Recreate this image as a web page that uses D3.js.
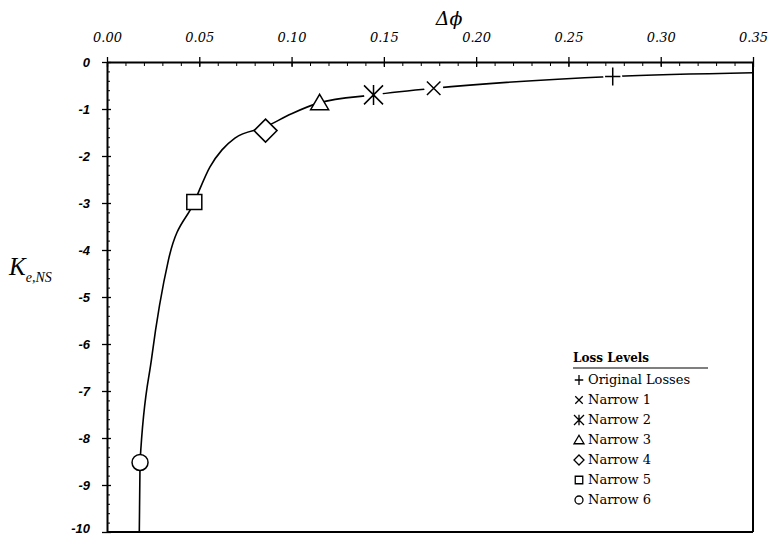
<!DOCTYPE html>
<html>
<head>
<meta charset="utf-8">
<script src="https://cdn.jsdelivr.net/npm/d3@7"></script>
<style>
  body { margin: 0; background: #fff; }
  svg { display: block; }
</style>
</head>
<body>
<div class="chart-container"></div>
<script>
// curve (delta phi, K_e,NS)
const curveX = [0.0175, 0.0179, 0.0243, 0.0333, 0.0473, 0.0558, 0.0623, 0.0693, 0.0859, 0.1000, 0.1149, 0.1444, 0.177, 0.274, 0.35];
const curveY = [-10, -8.52, -6.27, -4.21, -2.98, -2.23, -1.87, -1.62, -1.38, -1.10, -0.87, -0.70, -0.56, -0.31, -0.23];

// loss level markers
const levelNames = ['Original Losses', 'Narrow 1', 'Narrow 2', 'Narrow 3', 'Narrow 4', 'Narrow 5', 'Narrow 6'];
const levelShapes = ['plus', 'cross', 'asterisk', 'triangle', 'diamond', 'square', 'circle'];
const levelX = [0.274, 0.177, 0.1444, 0.1152, 0.0859, 0.0473, 0.0179];
const levelY = [-0.31, -0.56, -0.70, -0.87, -1.46, -2.98, -8.52];

const xMajor = [0, 0.05, 0.10, 0.15, 0.20, 0.25, 0.30, 0.35];
const yMajor = [0, -1, -2, -3, -4, -5, -6, -7, -8, -9, -10];

const width = 768, height = 535;
const plotLeft = 107, plotRight = 753, plotTop = 62, plotBottom = 532;

const svg = d3.select('.chart-container').append('svg')
    .attr('width', width)
    .attr('height', height);

const x = d3.scaleLinear().domain([0, 0.35]).range([plotLeft, plotRight]);
const y = d3.scaleLinear().domain([0, -10]).range([plotTop, plotBottom]);

const xMinor = d3.range(0, 36).map(i => i / 100);
const yMinor = d3.range(0, 51).map(i => -i / 5);

// frame: right and bottom edges
svg.append('line').attr('x1', plotRight).attr('x2', plotRight).attr('y1', plotTop).attr('y2', plotBottom)
    .attr('stroke', '#000').attr('stroke-width', 2);
svg.append('line').attr('x1', plotLeft).attr('x2', plotRight).attr('y1', plotBottom).attr('y2', plotBottom)
    .attr('stroke', '#000').attr('stroke-width', 2);

// top axis: minor ticks pointing down, major ticks crossing
svg.append('g')
    .attr('transform', `translate(0,${plotTop})`)
    .call(d3.axisBottom(x).tickValues(xMinor).tickSize(4).tickSizeOuter(0).tickFormat(''))
    .call(g => g.select('.domain').remove());
const xAxis = svg.append('g')
    .attr('transform', `translate(0,${plotTop})`)
    .call(d3.axisTop(x).tickValues(xMajor).tickSizeInner(5).tickSizeOuter(0).tickPadding(8)
        .tickFormat(d3.format('.2f')));
xAxis.selectAll('.tick line').attr('y2', -5).attr('y1', 5).attr('stroke-width', 1.3);
xAxis.select('.domain').attr('stroke-width', 2);
xAxis.selectAll('.tick text')
    .attr('y', -20).attr('dy', 0)
    .style('font-family', '"DejaVu Serif", serif')
    .style('font-style', 'italic')
    .style('font-size', '13px');

// left axis
svg.append('g')
    .attr('transform', `translate(${plotLeft},0)`)
    .call(d3.axisRight(y).tickValues(yMinor).tickSize(3).tickSizeOuter(0).tickFormat(''))
    .call(g => g.select('.domain').remove());
const yAxis = svg.append('g')
    .attr('transform', `translate(${plotLeft},0)`)
    .call(d3.axisLeft(y).tickValues(yMajor).tickSizeInner(5).tickSizeOuter(0).tickPadding(12)
        .tickFormat(d => String(d)));
yAxis.selectAll('.tick line').attr('x1', 4).attr('x2', -5).attr('stroke-width', 1.3);
yAxis.select('.domain').attr('stroke-width', 2);
yAxis.selectAll('.tick text')
    .attr('x', -17)
    .attr('dy', d => d === -10 ? '0.05em' : '0.32em')
    .style('font-family', '"Liberation Sans", Arial, sans-serif')
    .style('font-style', 'italic')
    .style('font-weight', 'bold')
    .style('font-size', '13px');

// axis titles
svg.append('text')
    .attr('x', 449).attr('y', 25)
    .attr('text-anchor', 'middle')
    .style('font-family', '"DejaVu Serif", serif')
    .style('font-style', 'italic')
    .style('font-size', '19px')
    .text('Δϕ');

const yTitle = svg.append('text')
    .attr('x', 9).attr('y', 275)
    .style('font-family', '"Liberation Serif", "Times New Roman", serif')
    .style('font-style', 'italic');
yTitle.append('tspan').style('font-size', '25px').text('K');
yTitle.append('tspan').attr('dy', 7).style('font-size', '14px').text('e,NS');

// curve
const line = d3.line().curve(d3.curveMonotoneX).x(d => x(d[0])).y(d => y(d[1]));
svg.append('path')
    .datum(d3.zip(curveX, curveY))
    .attr('fill', 'none')
    .attr('stroke', '#000')
    .attr('stroke-width', 1.6)
    .attr('d', line);

function markerPath(shape, s) {
    const p = d3.path();
    if (shape === 'plus') {
        p.moveTo(-s * 0.85, 0); p.lineTo(s * 0.85, 0);
        p.moveTo(0, -s); p.lineTo(0, s);
    } else if (shape === 'cross') {
        p.moveTo(-s * 0.75, -s * 0.75); p.lineTo(s * 0.75, s * 0.75);
        p.moveTo(-s * 0.75, s * 0.75); p.lineTo(s * 0.75, -s * 0.75);
    } else if (shape === 'asterisk') {
        p.moveTo(-s, -s); p.lineTo(s, s);
        p.moveTo(-s, s); p.lineTo(s, -s);
        p.moveTo(0, -s * 1.05); p.lineTo(0, s * 1.05);
    } else if (shape === 'triangle') {
        p.moveTo(0, -s * 0.95); p.lineTo(s, s * 0.75); p.lineTo(-s, s * 0.75); p.closePath();
    } else if (shape === 'diamond') {
        p.moveTo(0, -s); p.lineTo(s, 0); p.lineTo(0, s); p.lineTo(-s, 0); p.closePath();
    } else if (shape === 'square') {
        p.rect(-s * 0.75, -s * 0.75, s * 1.5, s * 1.5);
    } else {
        p.arc(0, 0, s * 0.8, 0, 2 * Math.PI);
    }
    return p.toString();
}

const chartSize = { plus: 9, cross: 9, asterisk: 9.5, triangle: 9, diamond: 11.5, square: 10, circle: 10 };
const open = new Set(['triangle', 'diamond', 'square', 'circle']);

const marks = svg.append('g').selectAll('g')
    .data(levelShapes.map((s, i) => ({ shape: s, x: levelX[i], y: levelY[i] })))
    .join('g')
    .attr('transform', d => `translate(${x(d.x)},${y(d.y)})`);

// small white gap in the line around each marker
marks.filter(d => !open.has(d.shape)).append('circle')
    .attr('r', 9.5).attr('fill', '#fff');
marks.append('path')
    .attr('d', d => markerPath(d.shape, chartSize[d.shape]))
    .attr('fill', d => open.has(d.shape) ? '#fff' : 'none')
    .attr('stroke', '#000')
    .attr('stroke-width', 1.5);

// legend
const legend = svg.append('g').attr('transform', 'translate(573,0)');
legend.append('text')
    .attr('x', 0).attr('y', 362)
    .style('font-family', '"DejaVu Serif", serif')
    .style('font-weight', 'bold')
    .style('font-size', '12px')
    .text('Loss Levels');
legend.append('line')
    .attr('x1', 0).attr('x2', 135).attr('y1', 368).attr('y2', 368)
    .attr('stroke', '#000').attr('stroke-width', 1.2);

const items = legend.selectAll('g.item')
    .data(levelNames.map((n, i) => ({ name: n, shape: levelShapes[i] })))
    .join('g')
    .attr('class', 'item')
    .attr('transform', (d, i) => `translate(0,${379 + i * 20})`);
items.append('path')
    .attr('transform', 'translate(6,1)')
    .attr('d', d => markerPath(d.shape, 5))
    .attr('fill', 'none')
    .attr('stroke', '#000')
    .attr('stroke-width', 1.3);
items.append('text')
    .attr('x', 15).attr('y', 5)
    .style('font-family', '"DejaVu Serif", serif')
    .style('font-size', '13px')
    .text(d => d.name);
</script>
</body>
</html>
